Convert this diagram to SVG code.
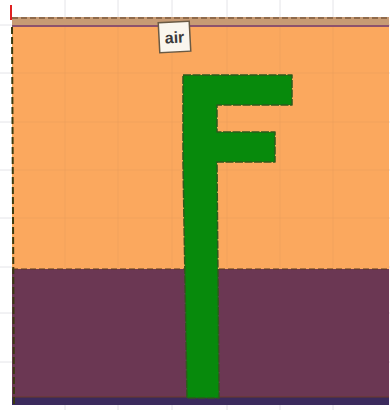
<svg xmlns="http://www.w3.org/2000/svg" width="390" height="410" viewBox="0 0 390 410">
<style>
.grid{stroke:#e4e4e8;stroke-width:1}
.grido{stroke:#eda05c;stroke-width:1;opacity:0.7}
.edge{fill:none;stroke:#5a3a20;stroke-width:1.2;stroke-dasharray:6 3}
</style>
<rect x="0" y="0" width="390" height="410" fill="#ffffff"/>
<g id="grid">
<line class="grid" x1="65" y1="0" x2="65" y2="410"/>
<line class="grid" x1="118" y1="0" x2="118" y2="410"/>
<line class="grid" x1="172" y1="0" x2="172" y2="410"/>
<line class="grid" x1="227" y1="0" x2="227" y2="410"/>
<line class="grid" x1="280" y1="0" x2="280" y2="410"/>
<line class="grid" x1="333" y1="0" x2="333" y2="410"/>
<line class="grid" x1="0" y1="25" x2="390" y2="25"/>
<line class="grid" x1="0" y1="73" x2="390" y2="73"/>
<line class="grid" x1="0" y1="122" x2="390" y2="122"/>
<line class="grid" x1="0" y1="170" x2="390" y2="170"/>
<line class="grid" x1="0" y1="218" x2="390" y2="218"/>
<line class="grid" x1="0" y1="267" x2="390" y2="267"/>
<line class="grid" x1="0" y1="313" x2="390" y2="313"/>
<line class="grid" x1="0" y1="362" x2="390" y2="362"/>
</g>
<g id="air-top">
<rect x="12" y="17" width="377" height="10" fill="#c79b74"/>
<line x1="12" y1="18" x2="389" y2="18" class="edge"/>
<line x1="12" y1="26" x2="389" y2="26" stroke="#7a3a6a" stroke-width="1.6"/>
</g>
<g id="air">
<rect x="12" y="27" width="377" height="242" fill="#fba85e"/>
<line class="grido" x1="65" y1="27" x2="65" y2="269"/>
<line class="grido" x1="118" y1="27" x2="118" y2="269"/>
<line class="grido" x1="172" y1="27" x2="172" y2="269"/>
<line class="grido" x1="227" y1="27" x2="227" y2="269"/>
<line class="grido" x1="280" y1="27" x2="280" y2="269"/>
<line class="grido" x1="333" y1="27" x2="333" y2="269"/>
<line class="grido" x1="12" y1="73" x2="389" y2="73"/>
<line class="grido" x1="12" y1="122" x2="389" y2="122"/>
<line class="grido" x1="12" y1="170" x2="389" y2="170"/>
<line class="grido" x1="12" y1="218" x2="389" y2="218"/>
</g>
<g id="lower">
<rect x="12" y="269" width="377" height="129" fill="#6b3753"/>
<line x1="12" y1="269" x2="389" y2="269" class="edge"/>
<rect x="12" y="397" width="377" height="8" fill="#3b2a5c"/>
<line x1="12" y1="397" x2="389" y2="397" stroke="#6a3a2a" stroke-width="1"/>
</g>
<g id="left-edge">
<line x1="12" y1="27" x2="14" y2="405" stroke="#3a3a10" stroke-width="2" stroke-dasharray="7 3"/>
<line x1="11" y1="5" x2="11" y2="20" stroke="#e02020" stroke-width="2"/>
</g>
<g id="F">
<path d="M183,75 L292,75 L292,105 L217,105 L217,132 L275,132 L275,162 L217,162 L219,398 L187,398 L183,162 Z" fill="#078a0c" stroke="#2e5a1c" stroke-width="1.5" stroke-dasharray="8 1.5" stroke-linejoin="round"/>
</g>
<g id="air-label" transform="rotate(-3 174 37)">
<rect x="159" y="22" width="31" height="30" fill="#faf6ee" stroke="#6a5a44" stroke-width="1.5"/>
<text x="174.5" y="43" font-family="Liberation Sans, Arial, sans-serif" font-size="16" font-weight="bold" fill="#3a3a3a" text-anchor="middle">air</text>
</g>
</svg>
